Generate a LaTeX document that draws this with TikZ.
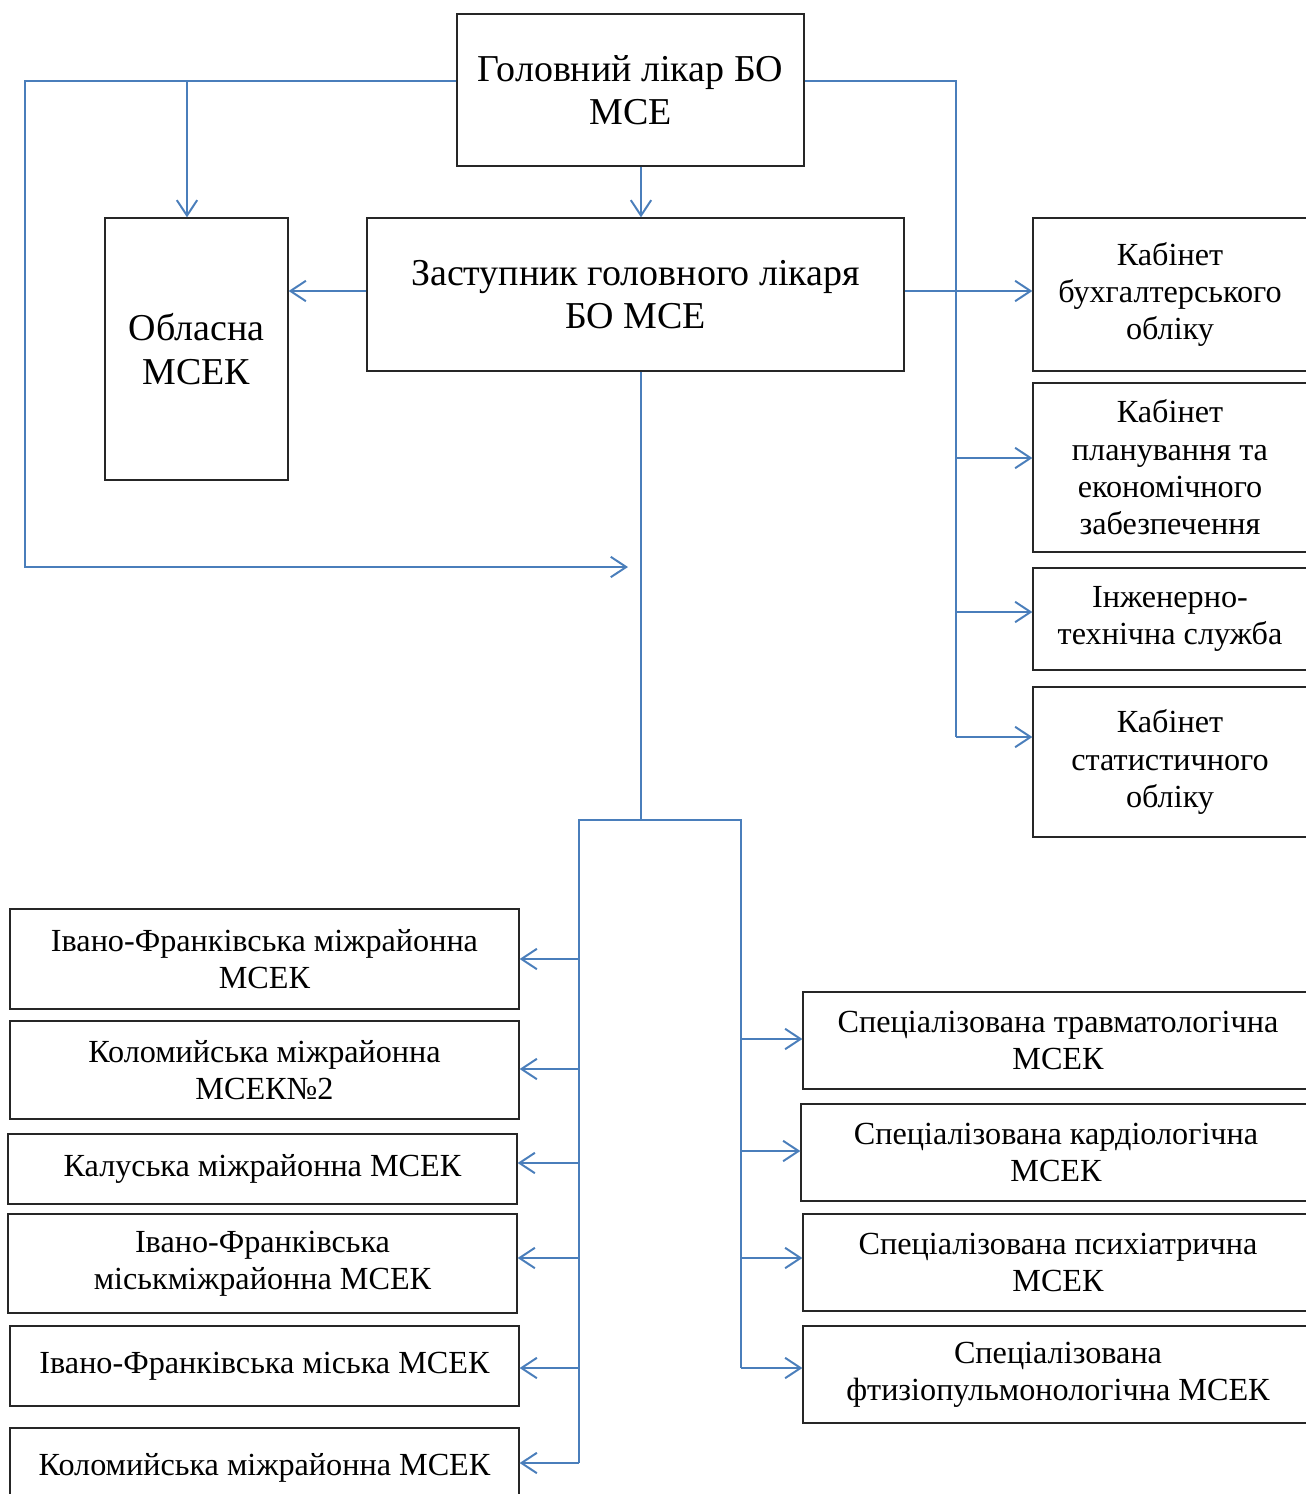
\documentclass[tikz,border=0pt]{standalone}
\usepackage{fontspec}
\setmainfont{Liberation Serif}
\usepackage{tikz}
\usetikzlibrary{arrows.meta}
\definecolor{linkblue}{RGB}{74,126,187}
\definecolor{boxgray}{gray}{0.15}

\begin{document}
\begin{tikzpicture}[x=0.025cm, y=-0.025cm,
	box/.style={draw=boxgray, line width=0.9pt, align=center, inner sep=0pt},
	boxsize/.style 2 args={minimum width=#1*\pxl, minimum height=#2*\pxl},
	big/.style={font=\fontsize{27}{31}\selectfont},
	small/.style={font=\fontsize{22.9}{26.6}\selectfont},
	link/.style={draw=linkblue, line width=1.4pt},
	arr/.style={link, -{Straight Barb[length=11pt, width=14.5pt]}}]

\def \pxl{0.025cm}
% \def \pxl{0.02cm} % smaller copy

\useasboundingbox (0,0) rectangle (1306,1494);
\clip (0,0) rectangle (1306,1494);

\node[box, big, boxsize={347}{152}] (chief)  at (630.5, 90)  {Головний лікар БО\\МСЕ};
\node[box, big, boxsize={537}{153}] (deputy) at (635.5, 294.5) {Заступник головного лікаря\\БО МСЕ};
\node[box, big, boxsize={183}{262}] (oblast) at (196.5, 349) {Обласна\\МСЕК};

% cabinets on the right
\node[box, small, boxsize={274}{153}] (acc)  at (1170, 294.5) {Кабінет\\бухгалтерського\\обліку};
\node[box, small, boxsize={274}{169}] (plan) at (1170, 467.5) {Кабінет\\планування та\\економічного\\забезпечення};
\node[box, small, boxsize={274}{102}] (eng)  at (1170, 619)   {Інженерно-\\технічна служба};
\node[box, small, boxsize={274}{150}] (stat) at (1170, 762)   {Кабінет\\статистичного\\обліку};

% inter-district commissions
\node[box, small, boxsize={509}{100}] (ifm)  at (264.5, 959)    {Івано-Франківська міжрайонна\\МСЕК};
\node[box, small, boxsize={509}{98}]  (kol2) at (264.5, 1070)   {Коломийська міжрайонна\\МСЕК№2};
\node[box, small, boxsize={509}{70}]  (kal)  at (262.5, 1169)   {Калуська міжрайонна МСЕК};
\node[box, small, boxsize={509}{99}]  (ifmm) at (262.5, 1263.5) {Івано-Франківська\\міськміжрайонна МСЕК};
\node[box, small, boxsize={509}{80}]  (ifc)  at (264.5, 1366)   {Івано-Франківська міська МСЕК};
\node[box, small, boxsize={509}{80}]  (kol)  at (264.5, 1468)   {Коломийська міжрайонна МСЕК};

% specialised commissions
\node[box, small, boxsize={510}{97}] (trauma) at (1058, 1040.5) {Спеціалізована травматологічна\\МСЕК};
\node[box, small, boxsize={510}{97}] (cardio) at (1056, 1152.5) {Спеціалізована кардіологічна\\МСЕК};
\node[box, small, boxsize={510}{97}] (psych)  at (1058, 1262.5) {Спеціалізована психіатрична\\МСЕК};
\node[box, small, boxsize={510}{97}] (phthi)  at (1058, 1374.5) {Спеціалізована\\фтизіопульмонологічна МСЕК};

\coordinate (left top) at (25, 81);
\coordinate (left bot) at (25, 567);
\coordinate (loop end) at (628, 567);
\coordinate (obl top)  at (187, 81);
\coordinate (right top) at (956, 81);
\coordinate (right bot) at (956, 737);
\coordinate (mid)      at (0, 291);
\coordinate (spine)    at (641, 820);
\coordinate (bus l)    at (579, 820);
\coordinate (bus r)    at (741, 820);

\draw[arr] (chief.west |- left top) -- (left top) -- (left bot) -- (loop end); % outer loop
\draw[arr] (obl top) -- (obl top |- oblast.north);
\draw[arr] (chief.south -| spine) -- (deputy.north -| spine);
\draw[arr] (deputy.west |- mid) -- (oblast.east |- mid);
\draw[link] (chief.east |- right top) -- (right top) -- (right bot); % right bus
\draw[arr] (deputy.east |- mid) -- (acc.west |- mid);

\foreach \n/\y in {plan/458, eng/612, stat/737} {
	\draw[arr] (956, \y) coordinate (tap) -- (tap -| \n.west);
}

\draw[link] (deputy.south -| spine) -- (spine);
\draw[link] (579, 1463) -- (bus l) -- (bus r) -- (741, 1368); % lower bus

\foreach \n/\y in {ifm/959, kol2/1069, kal/1163, ifmm/1258, ifc/1368, kol/1463} {
	\draw[arr] (579, \y) coordinate (tap) -- (tap -| \n.east);
}

\foreach \n/\y in {trauma/1039, cardio/1151, psych/1258, phthi/1368} {
	\draw[arr] (741, \y) coordinate (tap) -- (tap -| \n.west);
}

\end{tikzpicture}
\end{document}
